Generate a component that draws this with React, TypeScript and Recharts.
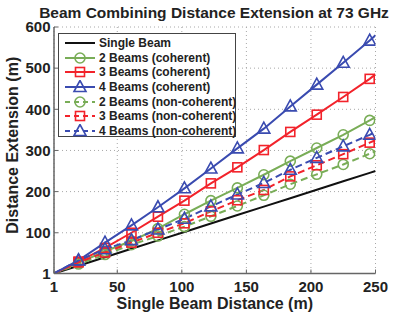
import React from 'react';
import { LineChart, Line, XAxis, YAxis, CartesianGrid, Legend } from 'recharts';

const distances = [1, 20, 40.5, 61, 81.5, 102, 122.5, 143, 163.5, 184, 204.5, 225, 245.5, 250];
const singleBeam = [1, 20, 40.5, 61, 81.5, 102, 122.5, 143, 163.5, 184, 204.5, 225, 245.5, 250];
const coherent2 = [1, 27, 55, 80, 110, 145, 178, 209, 241, 274, 306, 338, 373, 381];
const coherent3 = [1, 30, 63, 100, 139, 178, 220, 259, 301, 345, 387, 430, 474, 485];
const coherent4 = [1, 33, 76, 118, 162, 208, 256, 305, 353, 407, 460, 513, 567, 580];
const nonCoherent2 = [1, 24, 47, 71, 92, 115, 140, 165, 191, 218, 242, 266, 292, 298];
const nonCoherent3 = [1, 28, 52, 76, 100, 123, 152, 179, 204, 237, 264, 291, 319, 325];
const nonCoherent4 = [1, 33, 60, 82, 108, 134, 164, 193, 221, 253, 282, 310, 338, 345];

const xTicks = [1, 50, 100, 150, 200, 250];
const yTicks = [1, 100, 200, 300, 400, 500, 600];

const seriesNames = [
  'Single Beam',
  '2 Beams (coherent)',
  '3 Beams (coherent)',
  '4 Beams (coherent)',
  '2 Beams (non-coherent)',
  '3 Beams (non-coherent)',
  '4 Beams (non-coherent)',
];

const data = distances.map((x, i) => ({
  x,
  s1: singleBeam[i],
  c2: coherent2[i],
  c3: coherent3[i],
  c4: coherent4[i],
  n2: nonCoherent2[i],
  n3: nonCoherent3[i],
  n4: nonCoherent4[i],
}));

const BLACK = '#111111';
const GREEN = '#79ad57';
const RED = '#f2232b';
const BLUE = '#3a4bb0';
const DASH = '7 4';

type Shape = 'none' | 'circle' | 'square' | 'triangle';

const series: { key: string; name: string; color: string; shape: Shape; dashed: boolean }[] = [
  { key: 's1', name: seriesNames[0], color: BLACK, shape: 'none', dashed: false },
  { key: 'c2', name: seriesNames[1], color: GREEN, shape: 'circle', dashed: false },
  { key: 'c3', name: seriesNames[2], color: RED, shape: 'square', dashed: false },
  { key: 'c4', name: seriesNames[3], color: BLUE, shape: 'triangle', dashed: false },
  { key: 'n2', name: seriesNames[4], color: GREEN, shape: 'circle', dashed: true },
  { key: 'n3', name: seriesNames[5], color: RED, shape: 'square', dashed: true },
  { key: 'n4', name: seriesNames[6], color: BLUE, shape: 'triangle', dashed: true },
];

const FONT = '"Liberation Sans", Arial, Helvetica, sans-serif';

function marker(shape: Shape, cx: number, cy: number, color: string, key?: string) {
  const common = { fill: 'none', stroke: color, strokeWidth: 1.6, strokeDasharray: 'none' } as const;
  if (shape === 'circle') return <circle key={key} cx={cx} cy={cy} r={5} {...common} />;
  if (shape === 'square') return <rect key={key} x={cx - 4.5} y={cy - 4.5} width={9} height={9} {...common} />;
  if (shape === 'triangle')
    return (
      <polygon
        key={key}
        points={`${cx},${cy - 6.5} ${cx - 6},${cy + 4.5} ${cx + 6},${cy + 4.5}`}
        {...common}
      />
    );
  return <g key={key} />;
}

const makeDot = (shape: Shape, color: string) => (props: any) => {
  const { cx, cy, index } = props;
  const k = `d-${color}-${shape}-${index}`;
  if (shape === 'none' || index === 0 || index === distances.length - 1 || cx == null || cy == null) {
    return <g key={k} />;
  }
  return marker(shape, cx, cy, color, k);
};

const LegendBox = () => (
  <div
    style={{
      width: 178,
      height: 104,
      border: '1px solid #444',
      background: '#fff',
      fontFamily: FONT,
      fontWeight: 'bold',
      fontSize: 12,
      color: '#222',
      paddingTop: 2,
      boxSizing: 'border-box',
    }}
  >
    {series.map((s) => (
      <div key={s.key} style={{ display: 'flex', alignItems: 'center', height: 14.6, whiteSpace: 'nowrap' }}>
        <svg width={40} height={14} style={{ flex: 'none' }}>
          <line
            x1={6}
            x2={36}
            y1={7}
            y2={7}
            stroke={s.color}
            strokeWidth={2}
            strokeDasharray={s.dashed ? '5 4' : undefined}
          />
          {marker(s.shape, 21, 7, s.color)}
        </svg>
        <span style={{ lineHeight: '14px' }}>{s.name}</span>
      </div>
    ))}
  </div>
);

export default function App() {
  return (
    <div style={{ position: 'absolute', left: 0, top: 0, width: 415, height: 312, background: '#fff' }}>
      <div
        style={{
          position: 'absolute',
          left: 0,
          width: 428,
          top: 5,
          textAlign: 'center',
          fontFamily: FONT,
          fontWeight: 'bold',
          fontSize: 15.5,
          lineHeight: '16px',
          color: '#222',
          whiteSpace: 'nowrap',
          zIndex: 2,
        }}
      >
        Beam Combining Distance Extension at 73 GHz
      </div>
      <LineChart
        width={415}
        height={312}
        data={data}
        margin={{ top: 27, right: 39.5, left: 0, bottom: 0 }}
        style={{ fontFamily: FONT }}
      >
        <CartesianGrid stroke="#a8a8a8" strokeDasharray="1 3" />
        <XAxis
          dataKey="x"
          type="number"
          domain={[1, 250]}
          ticks={xTicks}
          allowDataOverflow
          height={38.5}
          tickSize={-4}
          tickMargin={12}
          axisLine={{ stroke: '#666', strokeWidth: 1.5 }}
          tickLine={{ stroke: '#666' }}
          tick={{ fill: '#222', fontSize: 15, fontWeight: 'bold' }}
          label={{
            value: 'Single Beam Distance (m)',
            position: 'insideBottom',
            offset: 3,
            style: { fill: '#222', fontSize: 16, fontWeight: 'bold' },
          }}
        />
        <XAxis
          xAxisId="top"
          orientation="top"
          type="number"
          domain={[1, 250]}
          ticks={xTicks}
          allowDataOverflow
          height={0}
          mirror
          tickSize={4}
          tickFormatter={() => ''}
          axisLine={{ stroke: '#666', strokeWidth: 1.5 }}
          tickLine={{ stroke: '#666' }}
        />
        <YAxis
          type="number"
          domain={[1, 600]}
          ticks={yTicks}
          allowDataOverflow
          width={54}
          tickSize={-4}
          tickMargin={7.5}
          axisLine={{ stroke: '#666', strokeWidth: 1.5 }}
          tickLine={{ stroke: '#666' }}
          tick={{ fill: '#222', fontSize: 15, fontWeight: 'bold' }}
          label={{
            value: 'Distance Extension (m)',
            angle: -90,
            position: 'insideLeft',
            offset: 12,
            dy: -5,
            style: { fill: '#222', fontSize: 16, fontWeight: 'bold', textAnchor: 'middle' },
          }}
        />
        <YAxis
          yAxisId="right"
          orientation="right"
          type="number"
          domain={[1, 600]}
          ticks={yTicks}
          allowDataOverflow
          width={0}
          mirror
          tickSize={4}
          tickFormatter={() => ''}
          axisLine={{ stroke: '#666', strokeWidth: 1.5 }}
          tickLine={{ stroke: '#666' }}
        />
        {series.map((s) => (
          <Line
            key={s.key}
            dataKey={s.key}
            name={s.name}
            stroke={s.color}
            strokeWidth={2}
            strokeDasharray={s.dashed ? DASH : undefined}
            dot={makeDot(s.shape, s.color)}
            activeDot={false}
            isAnimationActive={false}
          />
        ))}
        <Legend
          layout="vertical"
          align="center"
          verticalAlign="middle"
          wrapperStyle={{ top: 33, left: 58, width: 180, height: 106 }}
          content={() => <LegendBox />}
        />
      </LineChart>
    </div>
  );
}
